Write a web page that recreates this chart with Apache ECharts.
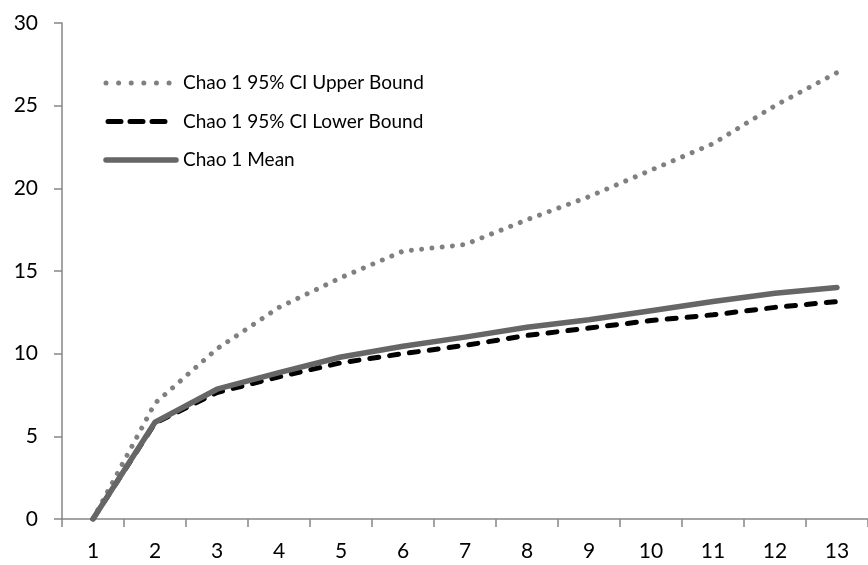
<!DOCTYPE html>
<html>
<head>
<meta charset="utf-8">
<script src="https://cdn.jsdelivr.net/npm/echarts@6/dist/echarts.min.js"></script>
<style>
  html, body { margin: 0; padding: 0; background: #ffffff; }
  #chart { width: 868px; height: 565px; }
</style>
</head>
<body>
<div id="chart"></div>
<script>
// Sample number (x axis)
const samples = ['1', '2', '3', '4', '5', '6', '7', '8', '9', '10', '11', '12', '13'];

// Chao 1 richness estimates
const upperBound = [0, 7.0, 10.3, 12.8, 14.6, 16.2, 16.6, 18.1, 19.5, 21.1, 22.7, 25.0, 27.0];
const lowerBound = [0, 5.8, 7.65, 8.6, 9.45, 10.0, 10.5, 11.1, 11.55, 12.0, 12.35, 12.8, 13.15];
const meanValues = [0, 5.85, 7.85, 8.85, 9.8, 10.45, 11.0, 11.6, 12.05, 12.6, 13.15, 13.65, 14.0];

const yTicks = [0, 5, 10, 15, 20, 25, 30];

const seriesNames = ['Chao 1 95% CI Upper Bound', 'Chao 1 95% CI Lower Bound', 'Chao 1 Mean'];

const font = 'Lato, "Open Sans", sans-serif';
const axisGrey = '#868686';

const upperStyle = { stroke: '#808080', lineWidth: 5, lineDash: [0.01, 10.3], lineCap: 'round' };
const lowerStyle = { stroke: '#000000', lineWidth: 5, lineDash: [9, 11], lineCap: 'round' };
const meanStyle = { stroke: '#666666', lineWidth: 5.5, lineCap: 'round' };

// Legend: sample line plus its label, one row per series
function legendRow(y, x1, x2, style, dash, name) {
  return {
    type: 'group',
    children: [
      {
        type: 'line',
        shape: { x1: x1, y1: y, x2: x2, y2: y },
        style: Object.assign({}, style, dash ? { lineDash: dash } : {})
      },
      {
        type: 'text',
        x: 183,
        y: y,
        style: { text: name, fontFamily: font, fontSize: 19, fill: '#000000', verticalAlign: 'middle', align: 'left' }
      }
    ]
  };
}

const chart = echarts.init(document.getElementById('chart'), null, { renderer: 'canvas' });

chart.setOption({
  animation: false,
  backgroundColor: '#ffffff',
  grid: { left: 62, top: 23, bottom: 46, right: -5 },
  graphic: [
    legendRow(83, 106, 170, upperStyle, [0.01, 12.6], seriesNames[0]),
    legendRow(121.5, 108, 165, lowerStyle, [13, 9], seriesNames[1]),
    legendRow(160, 106, 176, meanStyle, null, seriesNames[2])
  ],
  xAxis: {
    type: 'category',
    data: samples,
    boundaryGap: true,
    axisLine: { lineStyle: { color: axisGrey, width: 1.5 } },
    axisTick: { show: true, length: 8, alignWithLabel: false, lineStyle: { color: axisGrey, width: 1.5 } },
    axisLabel: { fontFamily: font, fontSize: 21, color: '#000000', margin: 22 },
    splitLine: { show: false }
  },
  yAxis: {
    type: 'value',
    min: yTicks[0],
    max: yTicks[yTicks.length - 1],
    interval: 5,
    axisLine: { show: true, lineStyle: { color: axisGrey, width: 1.5 } },
    axisTick: { show: true, length: 8, lineStyle: { color: axisGrey, width: 1.5 } },
    axisLabel: { fontFamily: font, fontSize: 21, color: '#000000', margin: 24 },
    splitLine: { show: false }
  },
  series: [
    {
      name: seriesNames[0],
      type: 'line',
      data: upperBound,
      symbol: 'none',
      z: 2,
      lineStyle: { color: upperStyle.stroke, width: upperStyle.lineWidth, type: upperStyle.lineDash, cap: 'round', join: 'round' }
    },
    {
      name: seriesNames[1],
      type: 'line',
      data: lowerBound,
      symbol: 'none',
      z: 3,
      lineStyle: { color: lowerStyle.stroke, width: lowerStyle.lineWidth, type: lowerStyle.lineDash, cap: 'round', join: 'round' }
    },
    {
      name: seriesNames[2],
      type: 'line',
      data: meanValues,
      symbol: 'none',
      z: 4,
      lineStyle: { color: meanStyle.stroke, width: meanStyle.lineWidth, cap: 'round', join: 'round' }
    }
  ]
});
</script>
</body>
</html>
